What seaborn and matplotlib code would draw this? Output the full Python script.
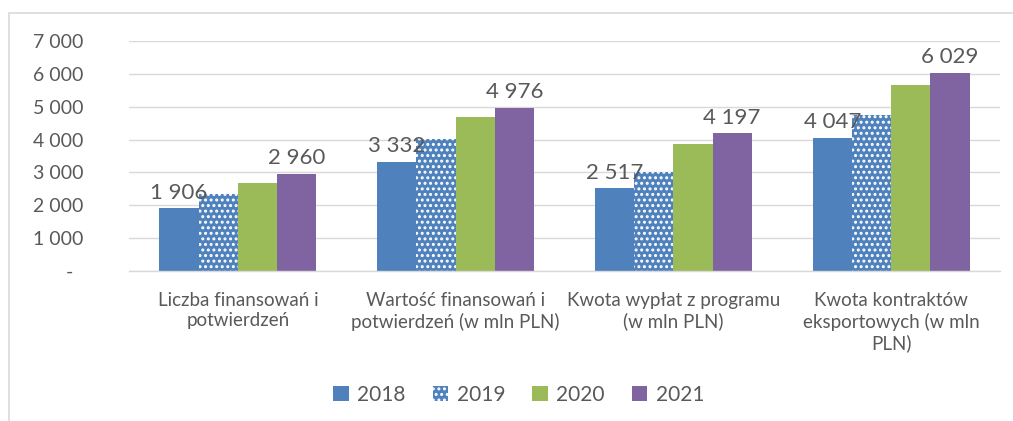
import matplotlib
matplotlib.use("Agg")
import matplotlib.pyplot as plt
import seaborn as sns
import pandas as pd
from matplotlib.patches import Rectangle, Patch

categories = [
    "Liczba finansowań i\npotwierdzeń",
    "Wartość finansowań i\npotwierdzeń (w mln PLN)",
    "Kwota wypłat z programu\n(w mln PLN)",
    "Kwota kontraktów\neksportowych (w mln\nPLN)",
]
years = ["2018", "2019", "2020", "2021"]
v2018 = [1906, 3332, 2517, 4047]
v2019 = [2350, 4010, 3010, 4760]
v2020 = [2690, 4690, 3880, 5650]
v2021 = [2960, 4976, 4197, 6029]
yticks = [0, 1000, 2000, 3000, 4000, 5000, 6000, 7000]
ytick_labels = ["-  ", "1 000", "2 000", "3 000", "4 000", "5 000", "6 000", "7 000"]

colors = ["#4F81BD", "#4F81BD", "#9BBB59", "#8064A2"]
txt = "#595959"

rows = []
for y, vals in zip(years, [v2018, v2019, v2020, v2021]):
    for c, v in zip(categories, vals):
        rows.append({"cat": c, "year": y, "val": v})
df = pd.DataFrame(rows)

sns.set_theme(style="white")
plt.rcParams["font.family"] = ["Lato", "DejaVu Sans"]
plt.rcParams["hatch.linewidth"] = 1.4

fig = plt.figure(figsize=(10.13, 4.21), dpi=100)
ax = fig.add_axes([129 / 1013, 1 - 271 / 421, (1000 - 129) / 1013, (271 - 41) / 421])

sns.barplot(data=df, x="cat", y="val", hue="year", palette=colors, width=0.72,
            gap=0, saturation=1, ax=ax, legend=False, errorbar=None, linewidth=0)

for p in ax.containers[1]:
    p.set_hatch("...")
    p.set_edgecolor("white")
    p.set_linewidth(0)

def fmt(v):
    return f"{int(round(v)):,}".replace(",", " ")

for i in (0, 3):
    cont = ax.containers[i]
    ax.bar_label(cont, labels=[fmt(v) for v in cont.datavalues], padding=4,
                 fontsize=16, color=txt)

ax.set_ylim(0, 7000)
ax.set_xlim(-0.5, 3.5)
ax.set_yticks(yticks)
ax.set_yticklabels(ytick_labels)
ax.tick_params(axis="y", length=0, pad=33, labelsize=14, labelcolor=txt)
ax.tick_params(axis="x", length=0, pad=15, labelsize=13.5, labelcolor=txt)
ax.set_xticks(range(4))
ax.set_xticklabels(categories, linespacing=1.25)
ax.set_xticks([-0.5, 0.5, 1.5, 2.5, 3.5], minor=True)
ax.tick_params(axis="x", which="minor", length=6, color="#D9D9D9", width=1, direction="out")
ax.set_xlabel("")
ax.set_ylabel("")
ax.yaxis.grid(True, color="#D9D9D9", linewidth=1)
ax.set_axisbelow(True)
for s in ["left", "right", "top"]:
    ax.spines[s].set_visible(False)
ax.spines["bottom"].set_color("#D9D9D9")
ax.spines["bottom"].set_linewidth(1)

handles = []
for y, c in zip(years, colors):
    if y == "2019":
        handles.append(Patch(facecolor=c, edgecolor="white", hatch="...", linewidth=0, label=y))
    else:
        handles.append(Patch(facecolor=c, linewidth=0, label=y))
fig.legend(handles=handles, loc="center", bbox_to_anchor=(0.512, 0.062), ncol=4,
           frameon=False, fontsize=15, handlelength=0.75, handleheight=0.75,
           handletextpad=0.4, columnspacing=1.3, labelcolor=txt)

fig.add_artist(Rectangle((8.5 / 1013, -0.1), 1.2, 1 - 13 / 421 + 0.1,
                         transform=fig.transFigure, fill=False,
                         edgecolor="#D9D9D9", linewidth=1.2))

fig.savefig("out.png", dpi=100, facecolor="white")
